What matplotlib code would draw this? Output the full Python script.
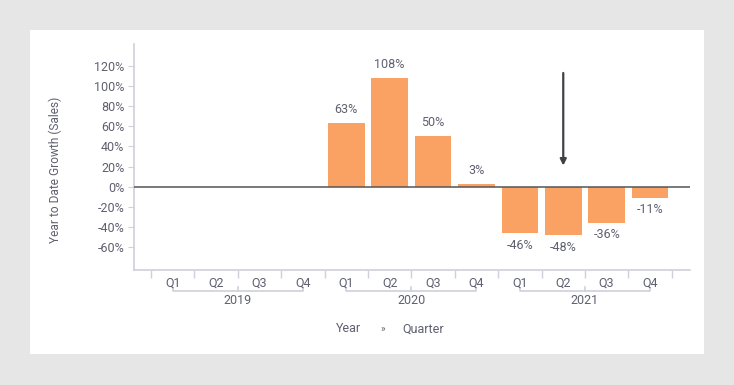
import numpy as np
import matplotlib
matplotlib.use("Agg")
import matplotlib.pyplot as plt
from matplotlib.patches import Rectangle

years = ["2019", "2020", "2021"]
quarters = ["Q1", "Q2", "Q3", "Q4"]
growth = [None, None, None, None, 63, 108, 50, 3, -46, -48, -36, -11]
yticks = [-60, -40, -20, 0, 20, 40, 60, 80, 100, 120]

BAR = "#F9A263"
TXT = "#5f6070"
AX = "#cfd0dc"

plt.rcParams["font.family"] = ["Roboto", "DejaVu Sans"]
W, H = 734, 385
fig = plt.figure(figsize=(W / 100, H / 100), dpi=100, facecolor="#e6e6e6")
fig.patches.append(Rectangle((30 / W, 1 - 354 / H), 674 / W, 324 / H,
                             transform=fig.transFigure, facecolor="white", edgecolor="none", zorder=-5))

ax = fig.add_axes([134 / W, 1 - 270 / H, 556 / W, 226 / H])
ax.set_zorder(2)
ax.set_facecolor("none")
n = len(growth)
xs = np.arange(n)
for x, v in zip(xs, growth):
    if v is None:
        continue
    ax.bar(x, v, width=0.845, color=BAR, zorder=2)
    if v >= 0:
        ax.annotate(f"{v}%", (x, v), xytext=(0, 5), textcoords="offset points",
                    ha="center", va="bottom", fontsize=9, color=TXT)
    else:
        ax.annotate(f"{v}%", (x, v), xytext=(0, -4), textcoords="offset points",
                    ha="center", va="top", fontsize=9, color=TXT)

ax.axhline(0, color="#555555", lw=1.1, zorder=3)
ax.set_xlim(-0.89, 11.92)
ax.set_ylim(-82.8, 141.8)
ax.set_yticks(yticks)
ax.set_yticklabels([f"{t}%" for t in yticks])
ax.tick_params(axis="y", length=4, color=AX, labelcolor=TXT, labelsize=9, pad=3)
ax.set_xticks(np.arange(-0.5, n, 1.0))
ax.set_xticklabels([])
ax.tick_params(axis="x", length=6, color=AX, width=1)
for s in ["top", "right"]:
    ax.spines[s].set_visible(False)
for s in ["left", "bottom"]:
    ax.spines[s].set_color(AX)
    ax.spines[s].set_linewidth(1.2)

# hierarchical x labels
tr = ax.get_xaxis_transform()
def yax(px):
    return (270 - px) / 226

for i in range(n):
    ax.text(i, yax(283), quarters[i % 4], transform=tr, ha="center", va="center",
            fontsize=9, color=TXT, clip_on=False)
for k, yr in enumerate(years):
    a, b = 4 * k, 4 * k + 3
    ax.plot([a, a, b, b], [yax(288), yax(291), yax(291), yax(288)], transform=tr,
            color=AX, lw=1.2, clip_on=False)
    mid = (a + b) / 2
    ax.plot([mid, mid], [yax(291), yax(287)], transform=tr, color=AX, lw=1.2, clip_on=False)
    ax.text(mid, yax(301), yr, transform=tr, ha="center", va="center",
            fontsize=9, color=TXT, clip_on=False)

fig.text(349 / W, 1 - 329 / H, "Year", ha="center", va="center", fontsize=9, color=TXT)
fig.text(383 / W, 1 - 329 / H, "»", ha="center", va="center", fontsize=7, color=TXT)
fig.text(423 / W, 1 - 329 / H, "Quarter", ha="center", va="center", fontsize=9, color=TXT)
fig.text(55 / W, 1 - 170 / H, "Year to Date Growth (Sales)", rotation=90,
         ha="center", va="center", fontsize=8.6, color=TXT)

# arrow pointing to 2021 Q2
ax.annotate("", xy=(9, 21), xytext=(9, 113),
            arrowprops=dict(arrowstyle="-|>", color="#3d4246", lw=1.6, mutation_scale=9,
                            shrinkA=0, shrinkB=0))

fig.savefig("out.png", dpi=100, facecolor=fig.get_facecolor())
